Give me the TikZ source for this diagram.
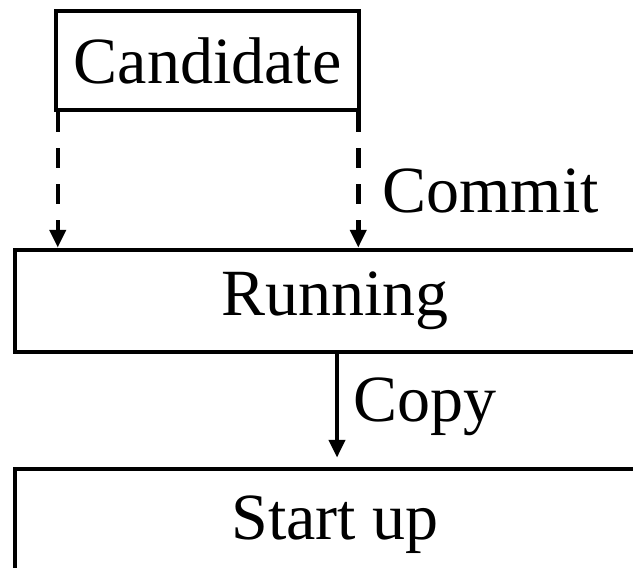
\documentclass[tikz,border=0pt]{standalone}
\usepackage{fontspec}
\setmainfont{Liberation Serif}
\usetikzlibrary{arrows.meta}
\tikzset{
  stage/.style={draw, rectangle, line width=4.5pt, inner sep=0pt, font=\fontsize{66}{79}\selectfont},
  flow/.style={line width=4.5pt, -{Triangle[length=18pt,width=16pt]}},
  pending/.style={flow, dash pattern=on 20pt off 16pt},
  lbl/.style={font=\fontsize{66}{79}\selectfont}
}

\begin{document}
\begin{tikzpicture}[x=1pt, y=-1pt]
	\useasboundingbox (0,0) rectangle (633,568);
	\clip (0,0) rectangle (633,568);
	\node[stage, minimum width=303pt, minimum height=99pt] (cand) at (207.5,60.5) {Candidate};
	\node[stage, minimum width=640pt, minimum height=102pt] (run) at (335,301) {Running};
	\node[stage, minimum width=640pt, minimum height=111pt] (start) at (335,524.5) {Start up};
	\draw[pending] ([xshift=4pt]cand.south west) -- ([xshift=4pt]cand.south west |- run.north);
	\draw[pending] ([xshift=-3pt]cand.south east) -- node[lbl, right, pos=0.58, inner sep=22pt] (commit) {Commit} ([xshift=-3pt]cand.south east |- run.north);
	\draw[flow, shorten >=9pt] ([xshift=2pt]run.south) -- node[lbl, right, pos=0.47, inner sep=14pt] (copy) {Copy} ([xshift=2pt]run.south |- start.north);
\end{tikzpicture}
\end{document}
